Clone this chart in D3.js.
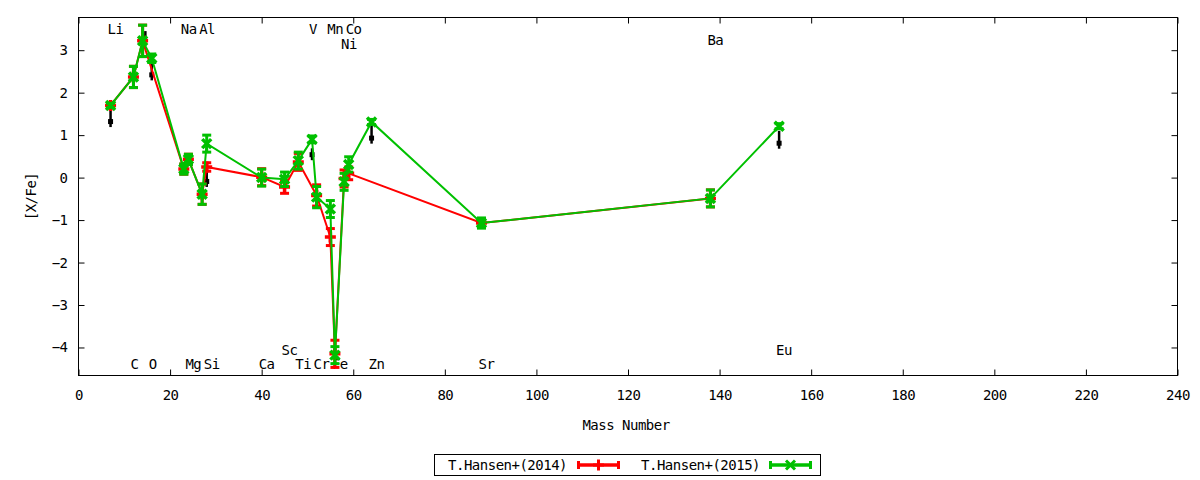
<!DOCTYPE html>
<html>
<head>
<meta charset="utf-8">
<script src="https://cdn.jsdelivr.net/npm/d3@7"></script>
<style>
  body { margin: 0; background: #fff; }
  text { font-family: "DejaVu Sans Mono", monospace; font-size: 14px; letter-spacing: -0.5px; fill: #000; }
</style>
</head>
<body>
<div id="chart"></div>
<script>
// T.Hansen+(2014)
const redMass = [7, 12, 14, 23, 24, 27, 28, 40, 45, 48, 52, 55, 56, 58, 59, 88, 138];
const redVal  = [1.70, 2.37, 3.22, 0.20, 0.43, -0.39, 0.25, 0.01, -0.22, 0.37, -0.42, -1.40, -4.15, -0.02, 0.10, -1.07, -0.49];
const redErr  = [0.05, 0.25, 0.37, 0.12, 0.12, 0.24, 0.10, 0.20, 0.15, 0.20, 0.25, 0.20, 0.32, 0.20, 0.15, 0.10, 0.20];

// T.Hansen+(2015)
const greenMass = [7, 12, 14, 16, 23, 24, 27, 28, 40, 45, 48, 51, 52, 55, 56, 58, 59, 64, 88, 138, 153];
const greenVal  = [1.70, 2.37, 3.22, 2.81, 0.20, 0.43, -0.39, 0.80, 0.00, -0.04, 0.40, 0.90, -0.46, -0.74, -4.18, -0.10, 0.31, 1.31, -1.07, -0.49, 1.21];
const greenErr  = [0.05, 0.25, 0.37, 0.10, 0.12, 0.12, 0.24, 0.20, 0.20, 0.17, 0.20, 0.08, 0.25, 0.20, 0.20, 0.20, 0.18, 0.06, 0.12, 0.20, 0.06];

// limit arrows (black)
const arrowMass   = [7, 14.6, 16, 28, 51, 64, 153];
const arrowTop    = [1.58, 3.45, 2.68, 0.13, 0.69, 1.25, 1.10];
const arrowBottom = [1.19, 3.31, 2.29, -0.22, 0.41, 0.80, 0.68];

// element labels
const labelText = ["Li", "C", "O", "Na", "Mg", "Al", "Si", "Ca", "Sc", "Ti", "V", "Cr", "Mn", "Fe", "Co", "Ni", "Zn", "Sr", "Ba", "Eu"];
const labelMass = [7, 12, 16, 23, 24, 27, 28, 40, 45, 48, 51, 52, 55, 56, 59, 58, 64, 88, 138, 153];
const labelRow  = [3.5, -4.4, -4.4, 3.5, -4.4, 3.5, -4.4, -4.4, -4.07, -4.4, 3.5, -4.4, 3.5, -4.4, 3.5, 3.15, -4.4, -4.4, 3.25, -4.07];

const xTicks = d3.range(0, 241, 20);
const yTicks = [-4, -3, -2, -1, 0, 1, 2, 3];

const width = 1200, height = 480;
const plot = { left: 78.5, right: 1177.5, top: 17.5, bottom: 375.5 };

const svg = d3.select("#chart").append("svg")
    .attr("width", width)
    .attr("height", height);

const x = d3.scaleLinear().domain([0, 240]).range([plot.left, plot.right]);
const y = d3.scaleLinear().domain([-4.66, 3.77]).range([plot.bottom, plot.top]);

// axes with inward ticks, mirrored on top and right
function styleAxis(g) {
    g.select(".domain").remove();
    g.selectAll(".tick line").attr("stroke", "#000").attr("stroke-width", 1);
    g.selectAll(".tick text").style("font-family", "DejaVu Sans Mono").style("font-size", "14px").attr("fill", "#000");
}

svg.append("g")
    .attr("transform", `translate(0,${plot.bottom})`)
    .call(d3.axisBottom(x).tickValues(xTicks).tickSizeInner(-6).tickSizeOuter(0).tickPadding(15).tickFormat(d3.format("d")))
    .call(styleAxis);

svg.append("g")
    .attr("transform", `translate(0,${plot.top})`)
    .call(d3.axisTop(x).tickValues(xTicks).tickSizeInner(-6).tickSizeOuter(0).tickFormat(""))
    .call(styleAxis);

svg.append("g")
    .attr("transform", `translate(${plot.left},0)`)
    .call(d3.axisLeft(y).tickValues(yTicks).tickSizeInner(-6).tickSizeOuter(0).tickPadding(11).tickFormat(d3.format("d")))
    .call(styleAxis);

svg.append("g")
    .attr("transform", `translate(${plot.right},0)`)
    .call(d3.axisRight(y).tickValues(yTicks).tickSizeInner(-6).tickSizeOuter(0).tickFormat(""))
    .call(styleAxis);

svg.append("rect")
    .attr("x", plot.left).attr("y", plot.top)
    .attr("width", plot.right - plot.left)
    .attr("height", plot.bottom - plot.top)
    .attr("fill", "none")
    .attr("stroke", "#000");

svg.append("text")
    .attr("x", (plot.left + plot.right) / 2 - 2)
    .attr("y", 430)
    .attr("text-anchor", "middle")
    .text("Mass Number");

svg.append("text")
    .attr("transform", `translate(36,${(plot.top + plot.bottom) / 2})rotate(-90)`)
    .attr("text-anchor", "middle")
    .text("[X/Fe]");

// element labels
svg.append("g").selectAll("text")
    .data(labelText)
    .enter()
    .append("text")
    .attr("x", (d, i) => x(labelMass[i]) - 3)
    .attr("y", (d, i) => y(labelRow[i]))
    .attr("dominant-baseline", "central")
    .text(d => d);

const plotArea = svg.append("g");

// black limit arrows
const arrows = arrowMass.map((m, i) => ({ m: m, top: arrowTop[i], bottom: arrowBottom[i] }));
plotArea.selectAll(".arrow")
    .data(arrows)
    .enter()
    .append("line")
    .attr("x1", d => x(d.m)).attr("x2", d => x(d.m))
    .attr("y1", d => y(d.top)).attr("y2", d => y(d.bottom))
    .attr("stroke", "#000")
    .attr("stroke-width", 2.5);
plotArea.selectAll(".arrowhead")
    .data(arrows.filter(d => d.top - d.bottom > 0.2))
    .enter()
    .append("rect")
    .attr("x", d => x(d.m) - 2.5)
    .attr("y", d => y(d.bottom) - 8)
    .attr("width", 5)
    .attr("height", 5)
    .attr("fill", "#000");

function drawSeries(mass, val, err, color, marker) {
    const data = mass.map((m, i) => ({ m: m, v: val[i], e: err[i] }));
    const g = plotArea.append("g");

    g.append("path")
        .datum(data)
        .attr("fill", "none")
        .attr("stroke", color)
        .attr("stroke-width", 2)
        .attr("d", d3.line().x(d => x(d.m)).y(d => y(d.v)));

    const bars = g.selectAll(".bar").data(data).enter().append("g");
    bars.append("line")
        .attr("x1", d => x(d.m)).attr("x2", d => x(d.m))
        .attr("y1", d => y(d.v + d.e)).attr("y2", d => y(d.v - d.e))
        .attr("stroke", color).attr("stroke-width", 3);
    [1, -1].forEach(s => {
        bars.append("line")
            .attr("x1", d => x(d.m) - 4.5).attr("x2", d => x(d.m) + 4.5)
            .attr("y1", d => y(d.v + s * d.e)).attr("y2", d => y(d.v + s * d.e))
            .attr("stroke", color).attr("stroke-width", 3);
    });

    g.selectAll(".pt").data(data).enter().append("path")
        .attr("transform", d => `translate(${x(d.m)},${y(d.v)})`)
        .attr("d", marker)
        .attr("fill", "none")
        .attr("stroke", color)
        .attr("stroke-width", 3.5);
}

const plusMarker = "M-5.5,0H5.5M0,-5.5V5.5";
const crossMarker = "M-4.5,-4.5L4.5,4.5M-4.5,4.5L4.5,-4.5";

drawSeries(redMass, redVal, redErr, "#ff0000", plusMarker);
drawSeries(greenMass, greenVal, greenErr, "#00c000", crossMarker);

// legend
const legend = svg.append("g");
legend.append("rect")
    .attr("x", 434.5).attr("y", 454.5)
    .attr("width", 386).attr("height", 21)
    .attr("fill", "#fff").attr("stroke", "#000");

const legendItems = [
    { label: "T.Hansen+(2014)", color: "#ff0000", marker: plusMarker, textEnd: 567, x0: 577, x1: 620 },
    { label: "T.Hansen+(2015)", color: "#00c000", marker: crossMarker, textEnd: 760, x0: 769, x1: 812 }
];
legendItems.forEach(item => {
    legend.append("text")
        .attr("x", item.textEnd).attr("y", 465)
        .attr("dominant-baseline", "central")
        .attr("text-anchor", "end")
        .text(item.label);
    legend.append("line")
        .attr("x1", item.x0).attr("x2", item.x1)
        .attr("y1", 465).attr("y2", 465)
        .attr("stroke", item.color).attr("stroke-width", 3.5);
    [item.x0 + 1.5, item.x1 - 1.5].forEach(cx => {
        legend.append("line")
            .attr("x1", cx).attr("x2", cx)
            .attr("y1", 461).attr("y2", 469)
            .attr("stroke", item.color).attr("stroke-width", 3);
    });
    legend.append("path")
        .attr("transform", `translate(${(item.x0 + item.x1) / 2},465)`)
        .attr("d", item.marker)
        .attr("fill", "none")
        .attr("stroke", item.color)
        .attr("stroke-width", 3);
});
</script>
</body>
</html>
